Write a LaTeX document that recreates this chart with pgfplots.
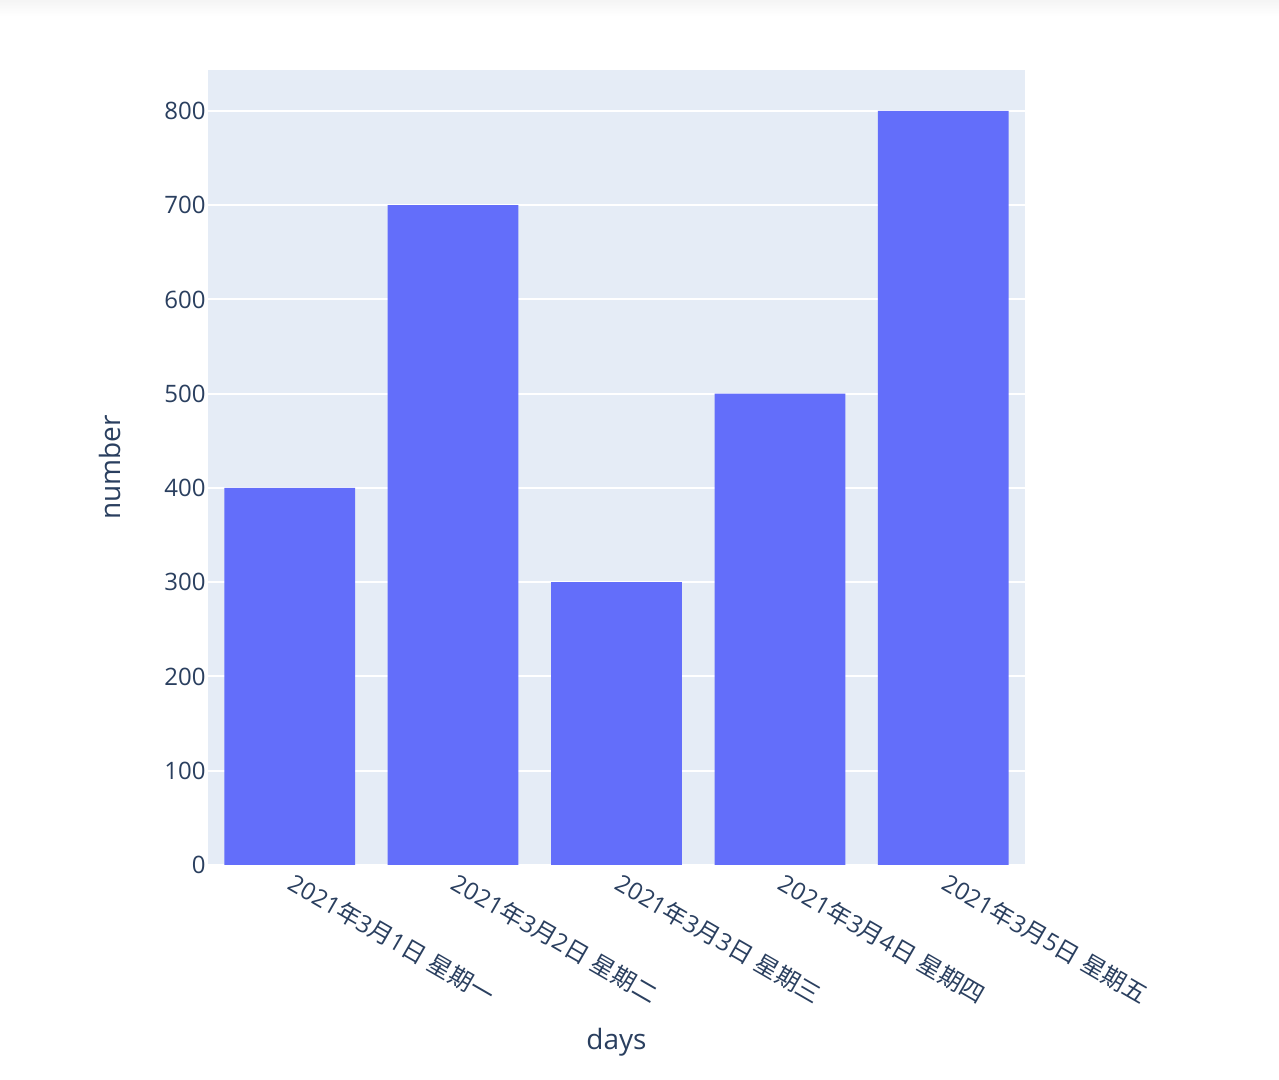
\documentclass[border=0pt]{standalone}
\usepackage{pgfplots}
\pgfplotsset{compat=1.18}
\usepackage{fontspec}
\setmainfont{Open Sans}
\newfontfamily\cjk{Noto Sans CJK SC}

\definecolor{plotbg}{HTML}{E5ECF6}
\definecolor{barblue}{HTML}{636EFA}
\definecolor{inkblue}{HTML}{2A3F5F}

\begin{document}
\begin{tikzpicture}
% page frame: 1 px = 0.5 pt
\path[use as bounding box, fill=white] (0,0) rectangle (639.5pt,540pt);
\shade[top color=black!4, bottom color=white] (0,532pt) rectangle (639.5pt,540pt);
\begin{axis}[
  at={(104pt,107.5pt)}, anchor=south west,
  scale only axis,
  width=408.5pt, height=397.5pt,
  xmin=-0.5, xmax=4.5,
  ymin=0, ymax=843.5,
  axis background/.style={fill=plotbg},
  axis line style={draw=none},
  major tick length=0pt,
  ytick={0,100,...,800},
  ymajorgrids,
  grid style={white, line width=1pt},
  xtick={0,1,2,3,4},
  xticklabels={
    {2021{\cjk 年}3{\cjk 月}1{\cjk 日} {\cjk 星期一}},
    {2021{\cjk 年}3{\cjk 月}2{\cjk 日} {\cjk 星期二}},
    {2021{\cjk 年}3{\cjk 月}3{\cjk 日} {\cjk 星期三}},
    {2021{\cjk 年}3{\cjk 月}4{\cjk 日} {\cjk 星期四}},
    {2021{\cjk 年}3{\cjk 月}5{\cjk 日} {\cjk 星期五}}
  },
  xticklabel style={xshift=3.4pt, yshift=-2.8pt, rotate=-30, anchor=north west, inner sep=0pt},
  yticklabel style={anchor=east, inner xsep=1pt, inner ysep=0pt},
  ticklabel style={font=\fontsize{12pt}{14pt}\selectfont, text=inkblue},
  /pgf/number format/assume math mode=true,
  label style={font=\fontsize{14pt}{17pt}\selectfont, text=inkblue},
  xlabel={days},
  ylabel={number},
  xlabel style={at={(rel axis cs:0.5,0)}, anchor=center, yshift=-88.5pt},
  ylabel style={at={(axis description cs:-0.11995,0.5)}, anchor=center},
  clip=false,
]
\addplot[ybar, bar width=0.8, fill=barblue, draw=none, bar shift=0pt]
  coordinates {(0,400) (1,700) (2,300) (3,500) (4,800)};
\end{axis}
\end{tikzpicture}
\end{document}
